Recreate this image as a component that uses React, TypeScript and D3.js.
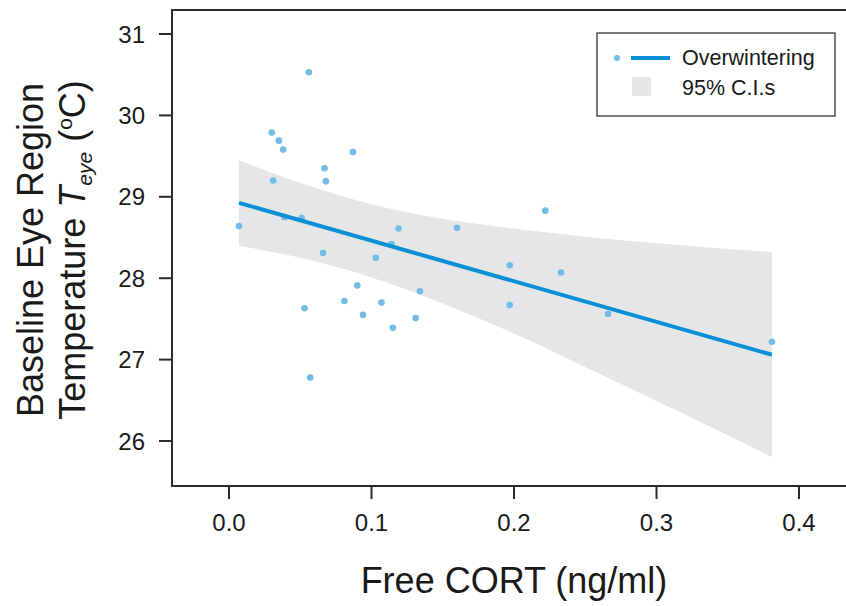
import React from "react";
import * as d3 from "d3";

// Scatter data: Free CORT (ng/ml) vs baseline eye temperature (°C)
const cortValues = [
  0.007, 0.030, 0.035, 0.038, 0.031, 0.039, 0.051, 0.053, 0.056, 0.057,
  0.066, 0.067, 0.068, 0.081, 0.087, 0.090, 0.094, 0.103, 0.107, 0.114,
  0.115, 0.119, 0.131, 0.134, 0.160, 0.197, 0.197, 0.222, 0.233, 0.266, 0.381,
];
const tempValues = [
  28.64, 29.79, 29.69, 29.58, 29.20, 28.75, 28.74, 27.63, 30.53, 26.78,
  28.31, 29.35, 29.19, 27.72, 29.55, 27.91, 27.55, 28.25, 27.70, 28.42,
  27.39, 28.61, 27.51, 27.84, 28.62, 28.16, 27.67, 28.83, 28.07, 27.56, 27.22,
];

// Fitted line
const fitX = [0.007, 0.381];
const fitY = [28.925, 27.06];

// 95% confidence band
const bandX = [0.007, 0.05, 0.1, 0.15, 0.2, 0.25, 0.3, 0.35, 0.381];
const bandUpper = [29.45, 29.17, 28.91, 28.73, 28.61, 28.51, 28.43, 28.36, 28.32];
const bandLower = [28.40, 28.25, 28.01, 27.69, 27.32, 26.91, 26.49, 26.07, 25.80];

const xTicks = [0, 0.1, 0.2, 0.3, 0.4];
const yTicks = [26, 27, 28, 29, 30, 31];

const W = 846;
const H = 606;
const FONT = "'Liberation Sans', Arial, Helvetica, sans-serif";

export default function App() {
  const x = d3.scaleLinear().domain([0, 0.4]).range([229, 799]);
  const y = d3.scaleLinear().domain([26, 31]).range([441, 34]);

  const frameLeft = 172;
  const frameTop = 10;
  const frameBottom = 486;

  const band = d3
    .area<number>()
    .x((_, i) => x(bandX[i]))
    .y0((_, i) => y(bandLower[i]))
    .y1((_, i) => y(bandUpper[i]))
    .curve(d3.curveMonotoneX)(bandX);

  const fit = d3
    .line<number>()
    .x((_, i) => x(fitX[i]))
    .y((_, i) => y(fitY[i]))(fitX);

  const axisColor = "#2b2b2b";
  const textColor = "#1a1a1a";
  const pointColor = "#72bce8";
  const lineColor = "#0a90d6";
  const bandColor = "#e5e6e8";

  return (
    <svg
      width={W}
      height={H}
      style={{ position: "absolute", left: 0, top: 0, background: "#fff" }}
      fontFamily={FONT}
    >
      <rect x={0} y={0} width={W} height={H} fill="#fff" />
      <path d={band || ""} fill={bandColor} />
      {cortValues.map((c, i) => (
        <circle key={i} cx={x(c)} cy={y(tempValues[i])} r={3.3} fill={pointColor} />
      ))}
      <path d={fit || ""} fill="none" stroke={lineColor} strokeWidth={4} />

      {/* frame */}
      <path
        d={`M${W + 5},${frameTop}H${frameLeft}V${frameBottom}H${W + 5}`}
        fill="none"
        stroke={axisColor}
        strokeWidth={2}
      />

      {/* y ticks */}
      {yTicks.map((t) => (
        <g key={t}>
          <line x1={frameLeft - 13} x2={frameLeft} y1={y(t)} y2={y(t)} stroke={axisColor} strokeWidth={2} />
          <text x={145} y={y(t) + 8.5} textAnchor="end" fontSize={24} fill={textColor}>
            {t}
          </text>
        </g>
      ))}

      {/* x ticks */}
      {xTicks.map((t) => (
        <g key={t}>
          <line x1={x(t)} x2={x(t)} y1={frameBottom} y2={frameBottom + 13} stroke={axisColor} strokeWidth={2} />
          <text x={x(t)} y={531} textAnchor="middle" fontSize={24} fill={textColor}>
            {t.toFixed(1)}
          </text>
        </g>
      ))}

      {/* axis titles */}
      <text x={514} y={593} textAnchor="middle" fontSize={36} fill={textColor}>
        Free CORT (ng/ml)
      </text>
      <text
        transform="translate(43,250) rotate(-90)"
        textAnchor="middle"
        fontSize={36}
        fill={textColor}
      >
        Baseline Eye Region
      </text>
      <text
        transform="translate(85,250) rotate(-90)"
        textAnchor="middle"
        fontSize={36}
        fill={textColor}
      >
        Temperature{" "}
        <tspan fontStyle="italic">T</tspan>
        <tspan fontStyle="italic" fontSize={21} dy={7}>eye</tspan>
        <tspan dy={-7}> (</tspan>
        <tspan fontSize={21} dy={-13}>o</tspan>
        <tspan dy={13}>C)</tspan>
      </text>

      {/* legend */}
      <rect x={597} y={33} width={238} height={83} fill="#fff" stroke="#333" strokeWidth={1.3} />
      <circle cx={617} cy={58} r={3} fill={pointColor} />
      <line x1={631} x2={670} y1={58} y2={58} stroke={lineColor} strokeWidth={4} />
      <text x={682} y={65} fontSize={21.5} fill={textColor}>
        Overwintering
      </text>
      <rect x={632} y={77} width={19} height={19} fill={bandColor} />
      <text x={682} y={95} fontSize={21.5} fill={textColor}>
        95% C.I.s
      </text>
    </svg>
  );
}
